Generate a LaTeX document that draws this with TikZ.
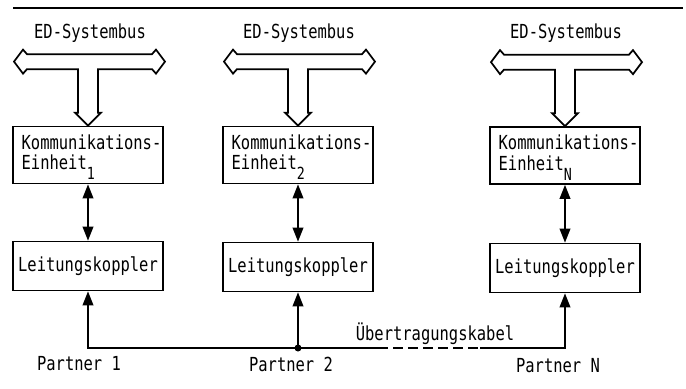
\documentclass[tikz,border=0pt]{standalone}
\usepackage{fontspec}
\newfontfamily\tw[FakeStretch=0.8]{DejaVu Sans Mono}
\usetikzlibrary{arrows.meta}
\newcommand\einsub[1]{\raisebox{-7.5pt}[0pt][0pt]{\fontsize{12.5}{12.5}\selectfont #1}}
\newcommand\kommtext[1]{\begin{tabular}{@{}l@{}}Kommunikations-\\Einheit\einsub{#1}\end{tabular}}
\begin{document}
\begin{tikzpicture}[x=0.75pt,y=-0.75pt,
  every node/.style={font=\tw\fontsize{14.5}{15}\selectfont},
  line width=1.3pt,
  kbox/.style={draw, line width=1.3pt, minimum width=113pt, minimum height=42.75pt,
    text width=99.5pt, inner xsep=6.75pt, inner ysep=0pt, align=left},
  lbox/.style={draw, line width=1.3pt, minimum width=113pt, minimum height=36.75pt, inner sep=0pt},
  tip/.style={-{Triangle[length=10.5pt,width=8pt]}},
  dtip/.style={{Triangle[length=10.5pt,width=8pt]}-{Triangle[length=10.5pt,width=8pt]}},
  lbl/.style={anchor=base, inner sep=0pt},
  cable/.style={dash pattern=on 7.5pt off 3.75pt},
  sysbus/.pic={\draw[line width=1.3pt, line join=miter]
    (-74,-64) -- (-65,-76) -- (-61,-71.5) -- (64,-71.5) -- (68,-76) -- (77,-64)
    -- (68,-52) -- (64,-56.5) -- (10,-56.5) -- (10,-13) -- (13,-13) -- (0,0)
    -- (-13,-13) -- (-10,-13) -- (-10,-56.5) -- (-61,-56.5) -- (-65,-52) -- cycle;}
]
\useasboundingbox (0,0) rectangle (686,389);
% top rule
\coordinate (r1) at (13,8);
\coordinate (r2) at (683,8);
\draw (r1) -- (r2);

% boxes
\node[kbox] (k1) at (88,155) {\kommtext{1}};
\node[kbox] (k2) at (298,155) {\kommtext{2}};
\node[kbox] (kN) at (565,155.5) {\kommtext{N}};
\node[lbox] (l1) at (88,266) {Leitungskoppler};
\node[lbox] (l2) at (298,267) {Leitungskoppler};
\node[lbox] (lN) at (565,268) {Leitungskoppler};

% system bus arrows
\pic at (k1.north) {sysbus};
\pic at (k2.north) {sysbus};
\pic at (kN.north) {sysbus};

% labels
\node[lbl] (e1) at (90,38) {ED-Systembus};
\node[lbl] (e2) at (299,38) {ED-Systembus};
\node[lbl] (eN) at (566,38) {ED-Systembus};
\node[lbl] (p1) at (79,370) {Partner 1};
\node[lbl] (p2) at (291,371) {Partner 2};
\node[lbl] (pN) at (558,372) {Partner N};
\node[lbl] (ue) at (435,340) {Übertragungskabel};

% vertical double arrows
\draw[dtip] (k1.south) -- (l1.north);
\draw[dtip] (k2.south) -- (l2.north);
\draw[dtip] (kN.south) -- (lN.north);

% transmission cable
\coordinate (b1) at (88,348);
\coordinate (b2) at (298,348);
\coordinate (bN) at (565,348);
\coordinate (d1) at (378,348);
\coordinate (d2) at (480,348);
\draw[tip] (d1) -- (b1) -- (l1.south);
\draw[cable] (d1) -- (d2);
\draw[tip] (d2) -- (bN) -- (lN.south);
\draw[tip] (b2) -- (l2.south);
\fill (b2) circle (3.5);
\end{tikzpicture}
\end{document}
